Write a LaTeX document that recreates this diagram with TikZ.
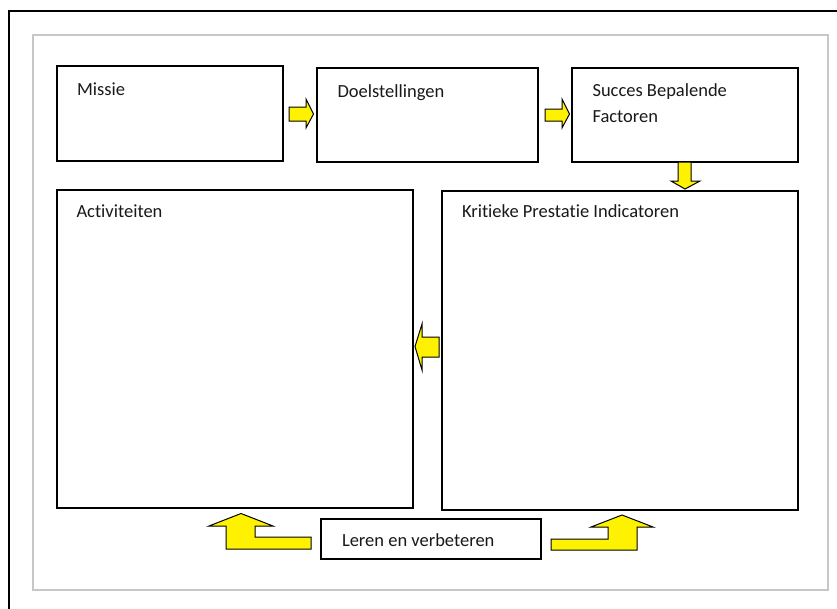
\documentclass[tikz,border=0pt]{standalone}
\usepackage{fontspec}
\setmainfont{Carlito}[Ligatures={NoCommon,NoRequired,NoContextual}]
\begin{document}
\begin{tikzpicture}[x=1pt,y=-1pt,
  box/.style={draw=black,line width=1.3pt,inner sep=0pt,outer sep=0pt,fill=white},
  txt/.style={anchor=base west,inner sep=0pt,outer sep=0pt,font=\fontsize{18.5}{27}\selectfont,text=black!90},
  barrow/.style={draw=black,line width=1pt,fill=yellow,line join=miter}]
\useasboundingbox (0,0) rectangle (837,608);
\fill[white] (0,0) rectangle (837,608);
% outer frame (only top and left visible)
\coordinate (ftl) at (9,11);
\coordinate (ftr) at (840,11);
\coordinate (fbl) at (9,612);
\draw[line width=2.2pt] (fbl) -- (ftl) -- (ftr);
% inner grey frame
\draw[draw=black!22,line width=1.6pt] (33,35) rectangle (828,590);
% boxes
\node[box,minimum width=226pt,minimum height=95pt] (missie) at (170,113.5) {};
\node[box,minimum width=221pt,minimum height=94pt] (doel) at (427.5,115) {};
\node[box,minimum width=226pt,minimum height=94pt] (succes) at (685,115) {};
\node[box,minimum width=356pt,minimum height=318pt] (activ) at (235,349) {};
\node[box,minimum width=356pt,minimum height=319pt] (kpi) at (620,350.5) {};
\node[box,minimum width=220pt,minimum height=40pt] (leren) at (431,539) {};
% texts
\node[txt] (tmissie) at (77,95) {Missie};
\node[txt] (tdoel) at (337.5,97.5) {Doelstellingen};
\node[txt] (tsucces1) at (592.5,96) {Succes Bepalende};
\node[txt] (tsucces2) at (592.5,122.5) {Factoren};
\node[txt] (tactiv) at (76.5,217.5) {Activiteiten};
\node[txt] (tkpi) at (462,217.5) {Kritieke Prestatie Indicatoren};
\node[txt] (tleren) at (342,546.5) {Leren en verbeteren};
% block arrows
\draw[barrow] (289,107) -- (306,107) -- (306,99) -- (313.5,114) -- (306,128) -- (306,121) -- (289,121) -- cycle;
\draw[barrow] (545,109) -- (562,109) -- (562,99) -- (569.5,114) -- (562,128) -- (562,121) -- (545,121) -- cycle;
\draw[barrow] (678,162) -- (691,162) -- (691,181) -- (700,181) -- (685,189) -- (671,181) -- (678,181) -- cycle;
\draw[barrow] (439,337) -- (422,337) -- (422,324) -- (415,346.5) -- (422,370) -- (422,357) -- (439,357) -- cycle;
\draw[barrow] (311,537) -- (255,537) -- (255,526) -- (273,526) -- (241,513.5) -- (209,526) -- (226,526) -- (226,549) -- (311,549) -- cycle;
\draw[barrow] (551,539) -- (608,539) -- (608,527) -- (591,527) -- (622,515) -- (653,527) -- (637,527) -- (637,550) -- (551,550) -- cycle;
\end{tikzpicture}
\end{document}
